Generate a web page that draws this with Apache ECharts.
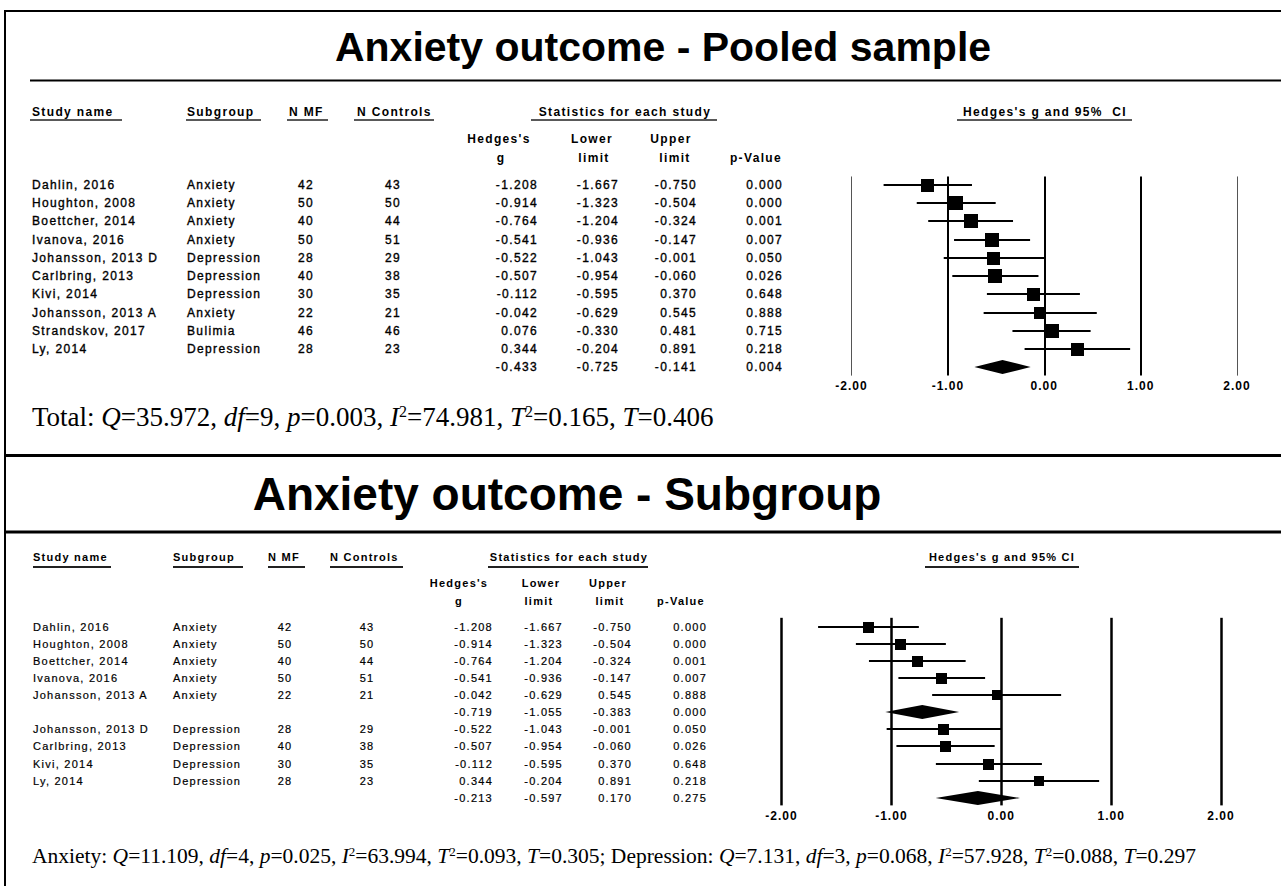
<!DOCTYPE html>
<html><head><meta charset="utf-8">
<script src="https://cdn.jsdelivr.net/npm/echarts@6/dist/echarts.min.js"></script>
<style>
html,body{margin:0;padding:0;background:#fff;}
#main{width:1281px;height:886px;}
#main text[style*="Helvetica"]{letter-spacing:1.35px;}
#main text[style*="Nimbus"]{letter-spacing:1.25px;}
#main text[style*="FreeSans"]{letter-spacing:1px;}
</style></head><body><div id="main"></div>
<script>
// ---------- DATA: pooled sample ----------
const pooledStudies = ['Dahlin, 2016','Houghton, 2008','Boettcher, 2014','Ivanova, 2016','Johansson, 2013 D','Carlbring, 2013','Kivi, 2014','Johansson, 2013 A','Strandskov, 2017','Ly, 2014'];
const pooledSubgroups = ['Anxiety','Anxiety','Anxiety','Anxiety','Depression','Depression','Depression','Anxiety','Bulimia','Depression'];
const pooledNMF = [42,50,40,50,28,40,30,22,46,28];
const pooledNControls = [43,50,44,51,29,38,35,21,46,23];
const pooledG = [-1.208,-0.914,-0.764,-0.541,-0.522,-0.507,-0.112,-0.042,0.076,0.344];
const pooledLower = [-1.667,-1.323,-1.204,-0.936,-1.043,-0.954,-0.595,-0.629,-0.330,-0.204];
const pooledUpper = [-0.750,-0.504,-0.324,-0.147,-0.001,-0.060,0.370,0.545,0.481,0.891];
const pooledP = [0.000,0.000,0.001,0.007,0.050,0.026,0.648,0.888,0.715,0.218];
const pooledSummary = [-0.433,-0.725,-0.141,0.004];      // g, lower, upper, p
const pooledHet = [35.972,9,0.003,74.981,0.165,0.406];    // Q, df, p, I2, T2, T

// ---------- DATA: subgroups ----------
const anxStudies = ['Dahlin, 2016','Houghton, 2008','Boettcher, 2014','Ivanova, 2016','Johansson, 2013 A'];
const anxNMF = [42,50,40,50,22];
const anxNControls = [43,50,44,51,21];
const anxG = [-1.208,-0.914,-0.764,-0.541,-0.042];
const anxLower = [-1.667,-1.323,-1.204,-0.936,-0.629];
const anxUpper = [-0.750,-0.504,-0.324,-0.147,0.545];
const anxP = [0.000,0.000,0.001,0.007,0.888];
const anxSummary = [-0.719,-1.055,-0.383,0.000];
const anxHet = [11.109,4,0.025,63.994,0.093,0.305];

const depStudies = ['Johansson, 2013 D','Carlbring, 2013','Kivi, 2014','Ly, 2014'];
const depNMF = [28,40,30,28];
const depNControls = [29,38,35,23];
const depG = [-0.522,-0.507,-0.112,0.344];
const depLower = [-1.043,-0.954,-0.595,-0.204];
const depUpper = [-0.001,-0.060,0.370,0.891];
const depP = [0.050,0.026,0.648,0.218];
const depSummary = [-0.213,-0.597,0.170,0.275];
const depHet = [7.131,3,0.068,57.928,0.088,0.297];

const axisTicks = [-2,-1,0,1,2];

// ---------- build rows ----------
function studyRows(names, sub, nmf, nc, g, lo, hi, p, tau2) {
  return names.map((n,i)=>({name:n, sub:Array.isArray(sub)?sub[i]:sub, nmf:nmf[i], nc:nc[i], g:g[i], lo:lo[i], hi:hi[i], p:p[i], tau2:tau2}));
}
function summaryRow(s){ return {summary:true, g:s[0], lo:s[1], hi:s[2], p:s[3]}; }

const pooledRows = studyRows(pooledStudies, pooledSubgroups, pooledNMF, pooledNControls, pooledG, pooledLower, pooledUpper, pooledP, pooledHet[4]);
pooledRows.push(summaryRow(pooledSummary));

const subRows = studyRows(anxStudies,'Anxiety',anxNMF,anxNControls,anxG,anxLower,anxUpper,anxP,anxHet[4])
  .concat([summaryRow(anxSummary)])
  .concat(studyRows(depStudies,'Depression',depNMF,depNControls,depG,depLower,depUpper,depP,depHet[4]))
  .concat([summaryRow(depSummary)]);

// ---------- fonts / layout ----------
const F_TITLE = "'Liberation Sans', Arial, sans-serif";
const F_TOP = "'Liberation Sans', Helvetica, sans-serif";
const F_BOT = "'Liberation Sans', 'Nimbus Sans', sans-serif";
const F_AX = "'Liberation Sans', FreeSans, sans-serif";
const F_SERIF = "'Liberation Serif', 'Times New Roman', serif";

const L1 = {row0:184.7, step:18.27, padTop:0.45, padBot:0.45, tableW:851, forestL:851.5, forestW:385.5,
  font:F_TOP, size:12, stroke:0.35, cols:{name:32, sub:187, nmf:306, nc:393, g:538, lo:619, hi:697, p:783},
  diamondH:7, squareK:6.3, ciW:2, refStyle:v => (Math.abs(v)===2 ? {color:'#555', width:1} : {color:'#000', width:2}), labelMargin:4};
const L2 = {row0:626.7, step:17.1, padTop:0.52, padBot:0.45, tableW:781, forestL:781.5, forestW:439.5,
  font:F_BOT, size:11, stroke:0.2, cols:{name:33, sub:173, nmf:285, nc:367, g:493, lo:563, hi:632, p:707},
  diamondH:7, squareK:4.2, ciW:2, refStyle:v => ({color:'#000', width:2.5}), labelMargin:5};

function gridBox(L, n) {
  return {top: L.row0 - L.padTop*L.step, height: (n-1+L.padTop+L.padBot)*L.step};
}

const fmt3 = v => v.toFixed(3);

function tableRender(rows, L) {
  return function(params, api) {
    const r = rows[params.dataIndex];
    const y = api.coord([0, api.value(0)])[1];
    const mk = (colX, text, align) => ({
      type:'text', x: api.coord([colX, api.value(0)])[0], y: y,
      style:{text:String(text), fontSize:L.size, fontFamily:L.font, fill:'#000',
        stroke:'#000', lineWidth:L.stroke,
        align:align, verticalAlign:'middle', textAlign:align, textVerticalAlign:'middle'}
    });
    const c = L.cols, kids = [];
    if (!r.summary) {
      kids.push(mk(c.name, r.name, 'left'), mk(c.sub, r.sub, 'left'), mk(c.nmf, r.nmf, 'center'), mk(c.nc, r.nc, 'center'));
    }
    kids.push(mk(c.g, fmt3(r.g), 'right'), mk(c.lo, fmt3(r.lo), 'right'), mk(c.hi, fmt3(r.hi), 'right'), mk(c.p, fmt3(r.p), 'right'));
    return {type:'group', children:kids};
  };
}

function forestRender(rows, L) {
  return function(params, api) {
    const r = rows[params.dataIndex];
    const row = api.value(1);
    const pc = api.coord([api.value(0), row]);
    const lo = api.coord([api.value(2), row]);
    const hi = api.coord([api.value(3), row]);
    const y = Math.round(pc[1]);
    if (r.summary) {
      const h = L.diamondH;
      return {type:'polygon', shape:{points:[[lo[0],y],[pc[0],y-h],[hi[0],y],[pc[0],y+h]]}, style:{fill:'#000', stroke:null}};
    }
    const se = (r.hi - r.lo)/(2*1.96);
    const w = 1/(se*se + r.tau2);
    const s = Math.round(L.squareK*Math.sqrt(w));
    return {type:'group', children:[
      {type:'line', shape:{x1:lo[0], y1:y, x2:hi[0], y2:y}, style:{stroke:'#000', lineWidth:L.ciW}},
      {type:'rect', shape:{x:Math.round(pc[0]-s/2), y:Math.round(y-s/2), width:s, height:s}, style:{fill:'#000'}}
    ]};
  };
}

function buildSection(rows, L, gi) {
  const n = rows.length;
  const b = gridBox(L, n);
  const grids = [
    {left:0, top:b.top, width:L.tableW, height:b.height, containLabel:false, outerBoundsMode:'none'},
    {left:L.forestL, top:b.top, width:L.forestW, height:b.height, containLabel:false, outerBoundsMode:'none'}
  ];
  const yMin = -L.padTop, yMax = n-1+L.padBot;
  const xAxes = [
    {gridIndex:gi, type:'value', min:0, max:L.tableW, show:false},
    {gridIndex:gi+1, type:'value', min:-2, max:2, interval:1,
      axisLine:{show:false}, axisTick:{show:false}, splitLine:{show:false},
      axisLabel:{show:true, showMinLabel:true, showMaxLabel:true, margin:L.labelMargin, color:'#000', fontWeight:'bold', fontSize:12, fontFamily:F_AX,
        formatter: v => v.toFixed(2)}}
  ];
  const yAxes = [
    {gridIndex:gi, type:'value', inverse:true, min:yMin, max:yMax, show:false},
    {gridIndex:gi+1, type:'value', inverse:true, min:yMin, max:yMax, show:false}
  ];
  const series = [
    {type:'custom', xAxisIndex:gi, yAxisIndex:gi, silent:true, renderItem:tableRender(rows, L),
      data: rows.map((r,i)=>[i]), encode:{y:0}},
    {type:'custom', xAxisIndex:gi+1, yAxisIndex:gi+1, silent:true, renderItem:forestRender(rows, L),
      data: rows.map((r,i)=>[r.g, i, r.lo, r.hi]), encode:{x:[0,2,3], y:1},
      markLine:{silent:true, symbol:['none','none'], label:{show:false}, animation:false,
        data: axisTicks.map(v => ({xAxis:v, lineStyle:Object.assign({type:'solid'}, L.refStyle(v))}))},
      z:3}
  ];
  return {grids, xAxes, yAxes, series};
}

const s1 = buildSection(pooledRows, L1, 0);
const s2 = buildSection(subRows, L2, 2);

// ---------- graphic: frame, titles, headers, stats ----------
function txt(x, y, text, size, family, weight, align) {
  return {type:'text', x:x, y:y, silent:true, z:10,
    style:{text:text, fontSize:size, fontFamily:family, fontWeight:weight||'normal', fill:'#000',
      align:align||'left', verticalAlign:'middle', textAlign:align||'left', textVerticalAlign:'middle'}};
}
function ln(x1, y1, x2, y2, w, c) {
  return {type:'line', silent:true, z:10, shape:{x1:x1, y1:y1, x2:x2, y2:y2}, style:{stroke:c||'#000', lineWidth:w}};
}
function statRich(size) {
  const base = {fontSize:size, fontFamily:F_SERIF, fill:'#000'};
  return {
    n: Object.assign({}, base),
    i: Object.assign({fontStyle:'italic'}, base),
    s: {fontSize:Math.round(size*0.6), fontFamily:F_SERIF, fill:'#000', verticalAlign:'top'}
  };
}
function hetText(h) {
  return '{i|Q}{n|=' + h[0].toFixed(3) + ', }{i|df}{n|=' + h[1] + ', }{i|p}{n|=' + h[2].toFixed(3) +
    ', }{i|I}{s|2}{n|=' + h[3].toFixed(3) + ', }{i|T}{s|2}{n|=' + h[4].toFixed(3) + ', }{i|T}{n|=' + h[5].toFixed(3) + '}';
}
function richTxt(x, y, text, size) {
  return {type:'text', x:x, y:y, silent:true, z:10,
    style:{text:text, rich:statRich(size), fontSize:size, fontFamily:F_SERIF, fill:'#000',
      align:'left', verticalAlign:'middle', textAlign:'left', textVerticalAlign:'middle'}};
}

const graphics = [
  // frame
  ln(4, 11, 1281, 11, 2), ln(5, 10, 5, 886, 2),
  ln(30, 80.5, 1281, 80.5, 2),
  ln(4, 455.5, 1281, 455.5, 3),
  ln(4, 532, 1281, 532, 3),
  // titles
  txt(663, 47, 'Anxiety outcome - Pooled sample', 41, F_TITLE, 'bold', 'center'),
  txt(567, 494, 'Anxiety outcome - Subgroup', 46, F_TITLE, 'bold', 'center'),
  // top headers
  txt(32, 111.5, 'Study name', 12, F_TOP, 'bold'), ln(30, 120, 122, 120, 1.5, '#222'),
  txt(187, 111.5, 'Subgroup', 12, F_TOP, 'bold'), ln(186, 120, 261, 120, 1.5, '#222'),
  txt(289, 111.5, 'N MF', 12, F_TOP, 'bold'), ln(287, 120, 328, 120, 1.5, '#222'),
  txt(357, 111.5, 'N Controls', 12, F_TOP, 'bold'), ln(354, 120, 434, 120, 1.5, '#222'),
  txt(625, 111.5, 'Statistics for each study', 12, F_TOP, 'bold', 'center'), ln(531, 120, 717, 120, 1.5, '#222'),
  txt(1045, 111.5, "Hedges's g and 95%  CI", 12, F_TOP, 'bold', 'center'), ln(957, 120, 1132, 120, 1.5, '#222'),
  txt(499, 139, "Hedges's", 12, F_TOP, 'bold', 'center'), txt(501, 158, 'g', 12, F_TOP, 'bold', 'center'),
  txt(592, 139, 'Lower', 12, F_TOP, 'bold', 'center'), txt(594, 158, 'limit', 12, F_TOP, 'bold', 'center'),
  txt(671, 139, 'Upper', 12, F_TOP, 'bold', 'center'), txt(675, 158, 'limit', 12, F_TOP, 'bold', 'center'),
  txt(756, 158, 'p-Value', 12, F_TOP, 'bold', 'center'),
  // bottom headers
  txt(33, 557, 'Study name', 11, F_BOT, 'bold'), ln(33, 567, 111, 567, 2, '#222'),
  txt(173, 557, 'Subgroup', 11, F_BOT, 'bold'), ln(173, 567, 243, 567, 2, '#222'),
  txt(268, 557, 'N MF', 11, F_BOT, 'bold'), ln(268, 567, 305, 567, 2, '#222'),
  txt(330, 557, 'N Controls', 11, F_BOT, 'bold'), ln(330, 567, 403, 567, 2, '#222'),
  txt(569, 557, 'Statistics for each study', 11, F_BOT, 'bold', 'center'), ln(488, 567, 648, 567, 2, '#222'),
  txt(1002, 557, "Hedges's g and 95% CI", 11, F_BOT, 'bold', 'center'), ln(925, 567, 1079, 567, 2, '#222'),
  txt(459, 583, "Hedges's", 11, F_BOT, 'bold', 'center'), txt(459, 601, 'g', 11, F_BOT, 'bold', 'center'),
  txt(541, 583, 'Lower', 11, F_BOT, 'bold', 'center'), txt(539, 601, 'limit', 11, F_BOT, 'bold', 'center'),
  txt(608, 583, 'Upper', 11, F_BOT, 'bold', 'center'), txt(610, 601, 'limit', 11, F_BOT, 'bold', 'center'),
  txt(681, 601, 'p-Value', 11, F_BOT, 'bold', 'center'),
  // heterogeneity stats
  richTxt(32, 417, '{n|Total: }' + hetText(pooledHet), 27),
  richTxt(32, 856, '{n|Anxiety: }' + hetText(anxHet) + '{n|; Depression: }' + hetText(depHet), 21.5)
];

const chart = echarts.init(document.getElementById('main'), null, {renderer:'svg', width:1281, height:886});
chart.setOption({
  animation:false,
  backgroundColor:'#fff',
  grid: s1.grids.concat(s2.grids),
  xAxis: s1.xAxes.concat(s2.xAxes),
  yAxis: s1.yAxes.concat(s2.yAxes),
  series: s1.series.concat(s2.series),
  graphic: graphics
});
</script></body></html>
